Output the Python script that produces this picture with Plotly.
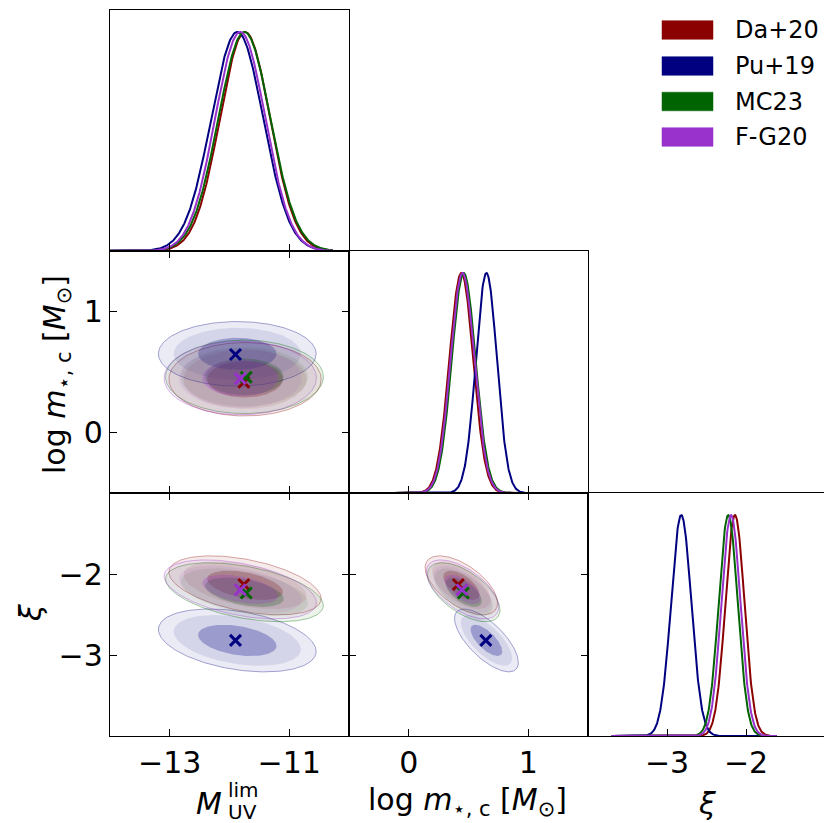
import numpy as np
import plotly.graph_objects as go

# ---------------- data ----------------
names = ["Da+20", "Pu+19", "MC23", "F-G20"]
colors_rgb = [(139, 0, 0), (0, 0, 128), (0, 100, 0), (153, 50, 204)]

# 1D marginal peak positions and widths (sigma) for each dataset
muv_mean = [-11.74, -11.87, -11.75, -11.82]
muv_sd = [0.42, 0.435, 0.435, 0.42]
logm_mean = [0.44, 0.65, 0.46, 0.45]
logm_sd = [0.10, 0.088, 0.10, 0.10]
xi_mean = [-2.14, -2.82, -2.225, -2.19]
xi_sd = [0.12, 0.128, 0.12, 0.12]

# correlation coefficients of the 2D posteriors
rho_muv_logm = [0.0, 0.0, 0.0, 0.0]
rho_muv_xi = [-0.45, -0.35, -0.45, -0.45]
rho_logm_xi = [-0.6, -0.7, -0.6, -0.6]

# best-fit points (crosses)
best_muv = [-11.76, -11.90, -11.72, -11.82]
best_logm = [0.415, 0.645, 0.457, 0.445]
best_xi = [-2.13, -2.82, -2.235, -2.195]

# credible-region masses of the filled contours (outer -> inner)
contour_mass = [0.99, 0.95, 0.68]

# extent of the sample grids used for the 1D marginals
muv_grid = [-14.3, -10.27]
logm_grid = [-0.12, 1.17]
xi_grid = [-3.70, -1.61]

# axis ranges and ticks
muv_range = [-14.0, -10.0]
logm_range = [-0.5, 1.5]
xi_range = [-4.0, -1.013]
muv_ticks = [-13, -11]
logm_ticks = [0, 1]
xi_ticks = [-3, -2]

# ---------------- styling ----------------
W, H = 824, 823
FONT = "DejaVu Sans"
fill_alpha = [0.08, 0.09, 0.27]
edge_alpha = [0.35, 0.0, 0.0]


def rgba(c, a):
    return f"rgba({c[0]},{c[1]},{c[2]},{a})"


def px(x):
    return x / W


def py(y):
    return 1 - y / H


fig = go.Figure()

# panels: (xaxis id, yaxis id)
# 1:(1,1) muv diag, 2:(2,1) muv-logm, 3:(2,2) logm diag, 4:(3,1) muv-xi, 5:(3,2) logm-xi, 6:(3,3) xi diag

def marginal(grid, mean, sd, axis_id):
    for i in range(len(names)):
        x = np.linspace(grid[0], grid[1], 400)
        y = np.exp(-0.5 * ((x - mean[i]) / sd[i]) ** 2)
        fig.add_trace(go.Scatter(x=x, y=y, mode="lines",
                                 line=dict(color=rgba(colors_rgb[i], 1), width=2),
                                 xaxis=f"x{axis_id}", yaxis=f"y{axis_id}",
                                 hoverinfo="skip", showlegend=False))


def contours(mx, sx, my, sy, rho, bx, by, axis_id):
    t = np.linspace(0, 2 * np.pi, 200)
    for i in range(len(names)):
        for k, mass in enumerate(contour_mass):
            r = np.sqrt(-2 * np.log(1 - mass))
            x = mx[i] + r * sx[i] * np.cos(t)
            y = my[i] + r * sy[i] * (rho[i] * np.cos(t) + np.sqrt(1 - rho[i] ** 2) * np.sin(t))
            fig.add_trace(go.Scatter(x=x, y=y, mode="lines", fill="toself",
                                     fillcolor=rgba(colors_rgb[i], fill_alpha[k]),
                                     line=dict(color=rgba(colors_rgb[i], edge_alpha[k]),
                                               width=1 if edge_alpha[k] > 0 else 0),
                                     xaxis=f"x{axis_id}", yaxis=f"y{axis_id}",
                                     hoverinfo="skip", showlegend=False))
    for i in range(len(names)):
        fig.add_trace(go.Scatter(x=[bx[i]], y=[by[i]], mode="markers",
                                 marker=dict(symbol="x-thin", size=11,
                                             line=dict(color=rgba(colors_rgb[i], 1), width=3)),
                                 xaxis=f"x{axis_id}", yaxis=f"y{axis_id}",
                                 hoverinfo="skip", showlegend=False))


marginal(muv_grid, muv_mean, muv_sd, 1)
contours(muv_mean, muv_sd, logm_mean, logm_sd, rho_muv_logm, best_muv, best_logm, 2)
marginal(logm_grid, logm_mean, logm_sd, 3)
contours(muv_mean, muv_sd, xi_mean, xi_sd, rho_muv_xi, best_muv, best_xi, 4)
contours(logm_mean, logm_sd, xi_mean, xi_sd, rho_logm_xi, best_logm, best_xi, 5)
marginal(xi_grid, xi_mean, xi_sd, 6)

# ---------------- layout ----------------
colx = [[px(110), px(349)], [px(349), px(588)], [px(588), 1.0]]
rowy = [[py(251), py(10)], [py(493), py(251)], [py(736), py(493)]]

base = dict(showline=True, linecolor="black", linewidth=1.3, ticks="inside", ticklen=7,
            tickwidth=1.3, tickcolor="black", showgrid=False, zeroline=False,
            tickfont=dict(family=FONT, size=30, color="black"))

panels = {
    1: dict(col=0, row=0, xr=muv_range, xt=muv_ticks, yr=[0, 1.1], diag=True),
    2: dict(col=0, row=1, xr=muv_range, xt=muv_ticks, yr=logm_range, yt=logm_ticks, diag=False),
    3: dict(col=1, row=1, xr=logm_range, xt=logm_ticks, yr=[0, 1.1], diag=True),
    4: dict(col=0, row=2, xr=muv_range, xt=muv_ticks, yr=xi_range[:1] + [-1.0], yt=xi_ticks, diag=False),
    5: dict(col=1, row=2, xr=logm_range, xt=logm_ticks, yr=[-4.0, -1.0], yt=xi_ticks, diag=False),
    6: dict(col=2, row=2, xr=xi_range, xt=xi_ticks, yr=[0, 1.1], diag=True),
}

layout = dict(width=W, height=H, margin=dict(l=0, r=0, t=0, b=0),
              paper_bgcolor="white", plot_bgcolor="white", showlegend=False)

for pid, p in panels.items():
    xa = dict(base)
    xa.update(domain=colx[p["col"]], range=p["xr"], tickvals=p["xt"], anchor=f"y{pid}",
              showticklabels=(p["row"] == 2), mirror=True if p["diag"] else "ticks")
    ya = dict(base)
    if p["diag"]:
        ya.update(domain=rowy[p["row"]], range=p["yr"], anchor=f"x{pid}", ticks="",
                  showticklabels=False, mirror=(pid != 6))
    else:
        ya.update(domain=rowy[p["row"]], range=p["yr"], tickvals=p["yt"], anchor=f"x{pid}",
                  showticklabels=(p["col"] == 0), mirror="ticks")
    layout["xaxis" if pid == 1 else f"xaxis{pid}"] = xa
    layout["yaxis" if pid == 1 else f"yaxis{pid}"] = ya

fig.update_layout(**layout)

# ---------------- axis labels ----------------
ann = []
lab_font = dict(family=FONT, size=30, color="black")
sub_font = dict(family=FONT, size=20, color="black")
ann.append(dict(x=px(209), y=py(803), text="<i>M</i>", font=lab_font, showarrow=False,
                xref="paper", yref="paper", xanchor="center", yanchor="middle"))
ann.append(dict(x=px(226), y=py(790), text="lim", font=sub_font, showarrow=False,
                xref="paper", yref="paper", xanchor="left", yanchor="middle"))
ann.append(dict(x=px(226), y=py(812), text="UV", font=sub_font, showarrow=False,
                xref="paper", yref="paper", xanchor="left", yanchor="middle"))
logm_label = "log <i>m</i><sub>⋆, c</sub> [<i>M</i><sub>⊙</sub>]"
ann.append(dict(x=px(467), y=py(801), text=logm_label, font=lab_font, showarrow=False,
                xref="paper", yref="paper", xanchor="center", yanchor="middle"))
ann.append(dict(x=px(707), y=py(803), text="<i>ξ</i>", font=lab_font, showarrow=False,
                xref="paper", yref="paper", xanchor="center", yanchor="middle"))
ann.append(dict(x=px(57), y=py(375), text=logm_label, font=lab_font, showarrow=False,
                textangle=-90, xref="paper", yref="paper", xanchor="center", yanchor="middle"))
ann.append(dict(x=px(30), y=py(613), text="<i>ξ</i>", font=lab_font, showarrow=False,
                textangle=-90, xref="paper", yref="paper", xanchor="center", yanchor="middle"))

# ---------------- legend (patches + labels) ----------------
shapes = []
leg_y = [30, 66, 101.5, 137]
for i, name in enumerate(names):
    shapes.append(dict(type="rect", xref="paper", yref="paper",
                       x0=px(662), x1=px(713), y0=py(leg_y[i] + 9.3), y1=py(leg_y[i] - 9.3),
                       fillcolor=rgba(colors_rgb[i], 1), line=dict(color=rgba(colors_rgb[i], 0.5), width=1)))
    ann.append(dict(x=px(733), y=py(leg_y[i]), text=name, showarrow=False,
                    font=dict(family=FONT, size=24, color="black"),
                    xref="paper", yref="paper", xanchor="left", yanchor="middle"))

fig.update_layout(annotations=ann, shapes=shapes)
fig.write_html("out.html")
